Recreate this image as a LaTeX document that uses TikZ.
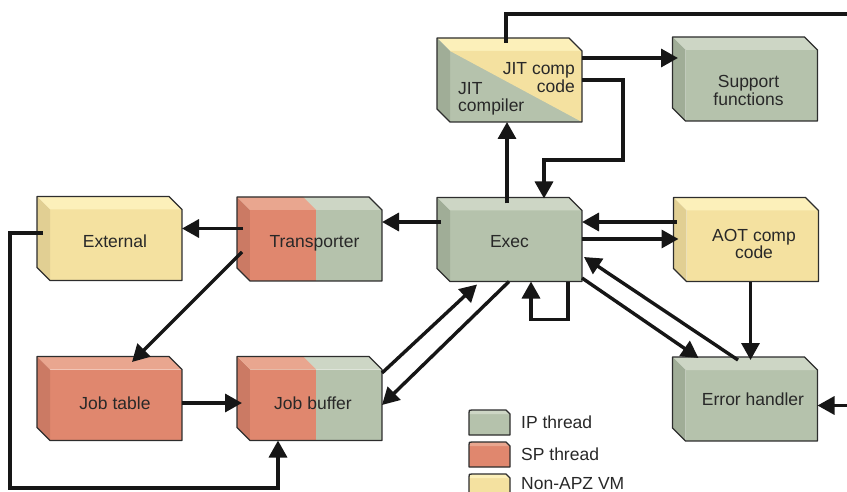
\documentclass[tikz,border=0pt]{standalone}
\usepackage{fontspec}
\setmainfont{Liberation Sans}
\usetikzlibrary{arrows.meta,positioning}
\pgfdeclarelayer{bg}
\pgfsetlayers{bg,main}

\definecolor{ipfront}{RGB}{181,194,172}
\definecolor{iptop}{RGB}{205,214,197}
\definecolor{ipside}{RGB}{160,173,151}
\definecolor{spfront}{RGB}{224,135,110}
\definecolor{sptop}{RGB}{233,166,143}
\definecolor{spside}{RGB}{203,122,100}
\definecolor{vmfront}{RGB}{244,225,160}
\definecolor{vmtop}{RGB}{252,240,186}
\definecolor{vmside}{RGB}{225,207,147}
\definecolor{txt}{RGB}{40,40,40}
\definecolor{rimc}{RGB}{45,45,45}
\definecolor{wirec}{RGB}{22,22,22}

\newcommand{\lab}{\fontsize{17.5}{17.5}\selectfont}

% front face is the node, top and side faces are 13 deep
\newcommand{\drawblock}[4]{%
	\begin{pgfonlayer}{bg}
		\fill[#2] (#1.north west) rectangle (#1.south east);
		\fill[#3] (#1.north west) -- ++(-13,-13) -- ([shift={(-13,-13)}]#1.north east) -- (#1.north east) -- cycle;
		\fill[#4] (#1.north west) -- ++(-13,-13) -- ([shift={(-13,-13)}]#1.south west) -- (#1.south west) -- cycle;
	\end{pgfonlayer}
	\draw[rim] ([shift={(-13,-13)}]#1.north west) -- ([shift={(-13,-13)}]#1.north east) -- (#1.north east) -- (#1.south east) -- (#1.south west) -- ([shift={(-13,-13)}]#1.south west) -- cycle;}

% left half red for the shared blocks
\newcommand{\sphalf}[1]{%
	\begin{pgfonlayer}{bg}
		\fill[spfront] (#1.north west) rectangle (#1.south);
		\fill[sptop] (#1.north west) -- ++(-13,-13) -- ([shift={(-13,-13)}]#1.north) -- (#1.north) -- cycle;
	\end{pgfonlayer}}

\newcommand{\keyline}[1]{(#1.south west) -- ([yshift=-3pt]#1.north west) .. controls (#1.north west) .. ([xshift=3pt]#1.north west) -- ([xshift=-4pt]#1.north east) -- ([yshift=-4pt]#1.north east) -- (#1.south east) -- cycle}
\newcommand{\keychip}[3]{%
	\fill[#2] \keyline{#1};
	\fill[#3] ([yshift=-3pt]#1.north west) .. controls (#1.north west) .. ([xshift=3pt]#1.north west) -- ([xshift=-4pt]#1.north east) -- ([yshift=-4pt]#1.north east) -- ([yshift=-4pt]#1.north west) -- cycle;
	\draw[rim] \keyline{#1};}

\tikzset{
	block/.style={minimum width=132pt, minimum height=71pt, inner sep=0pt, outer sep=0pt},
	lbl/.style={font=\lab, text=txt, inner sep=0pt, align=center},
	rim/.style={draw=rimc, line width=1.3pt, line join=round},
	wire/.style={draw=wirec, line width=3.4pt},
	arr/.style={wire, -{Triangle[length=17pt,width=18pt]}},
	keychip/.style={minimum width=41pt, minimum height=25pt, inner sep=0pt, outer sep=0pt}
}

\begin{document}
\begin{tikzpicture}[x=1pt,y=-1pt]
	\useasboundingbox (0,0) rectangle (847,492);
	\clip (0,0) rectangle (847,492);

	\node[block, label={[lbl,align=right,anchor=north east,shift={(-7,11.5)}]north east:{JIT comp\\code}}, label={[lbl,align=left,anchor=south west,shift={(8,-6.5)}]south west:{JIT\\compiler}}] (jit) at (516,86.5) {};
	\node[block, label={[lbl,shift={(-3,5)}]center:{Support\\functions}}] (support) at (751.5,85.5) {};
	\node[block, label={[lbl,shift={(-1,-3.5)}]center:External}] (external) at (116,245) {};
	\node[block, label={[lbl,shift={(-1.5,-2)}]center:Transporter}] (transporter) at (316,245.5) {};
	\node[block, label={[lbl,shift={(-6.5,-4.5)}]center:Exec}] (exec) at (516,246) {};
	\node[block, label={[lbl,shift={(1.5,-2)}]center:{AOT comp\\code}}] (aot) at (752.5,246) {};
	\node[block, label={[lbl,shift={(-1,-1.5)}]center:Job table}] (jobtable) at (116,405) {};
	\node[block, label={[lbl,shift={(-3,-1.5)}]center:Job buffer}] (jobbuffer) at (316,405) {};
	\node[block, label={[lbl,shift={(1.5,-6.5)}]center:Error handler}] (errhandler) at (751.5,405.5) {};

	\drawblock{jit}{ipfront}{vmtop}{ipside}
	\begin{pgfonlayer}{bg}
		\fill[vmfront] (jit.north west) -- (jit.north east) -- (jit.south east) -- cycle;
	\end{pgfonlayer}
	\drawblock{support}{ipfront}{iptop}{ipside}
	\drawblock{external}{vmfront}{vmtop}{vmside}
	\drawblock{transporter}{ipfront}{iptop}{spside}
	\sphalf{transporter}
	\drawblock{exec}{ipfront}{iptop}{ipside}
	\drawblock{aot}{vmfront}{vmtop}{vmside}
	\drawblock{jobtable}{spfront}{sptop}{spside}
	\drawblock{jobbuffer}{ipfront}{iptop}{spside}
	\sphalf{jobbuffer}
	\drawblock{errhandler}{ipfront}{iptop}{ipside}

	% legend
	\node[keychip] (ipkey) at (489.5,422.5) {};
	\node[keychip, below=7pt of ipkey] (spkey) {};
	\node[keychip, below=7pt of spkey] (vmkey) {};
	\keychip{ipkey}{ipfront}{iptop}
	\keychip{spkey}{spfront}{sptop}
	\keychip{vmkey}{vmfront}{vmtop}
	\node[lbl, right=11pt of ipkey] (iptext) {IP thread};
	\node[lbl, right=11pt of spkey] (sptext) {SP thread};
	\node[lbl, right=11pt of vmkey, yshift=2.5pt] (vmtext) {Non-APZ VM};

	\coordinate (toprun) at (850,14);
	\coordinate (jitbend) at (623,160);
	\coordinate (lowrun) at (10,488);
	\coordinate (rightrun) at (850,405.5);

	\draw[wire] ([shift={(-10,-8)}]jit.north) |- (toprun);
	\draw[arr] ([shift={(0,-28.5)}]jit.east) -- ([shift={(-7.5,-27.5)}]support.west);
	\draw[arr] ([shift={(0,-6.5)}]jit.east) -| (jitbend) -| ([shift={(28,-12)}]exec.north);
	\draw[arr] ([shift={(-9,-7)}]exec.north) -- ([shift={(-9,0)}]jit.south);
	\draw[arr] ([shift={(-10,-24)}]aot.west) -- ([shift={(0,-24)}]exec.east);
	\draw[arr] ([shift={(0,-7)}]exec.east) -- ([shift={(-8,-7)}]aot.west);
	\draw[arr] ([shift={(-9,-24)}]exec.west) -- ([shift={(0,-23.5)}]transporter.east);
	\draw[arr] ([shift={(-7,-17)}]transporter.west) -- ([shift={(0,-16.5)}]external.east);
	\draw[arr] ([shift={(-8,6.5)}]transporter.west) -- ([shift={(16,-7.5)}]jobtable.north);
	\draw[arr] ([shift={(0,-2)}]jobtable.east) -- ([shift={(-8,-2)}]jobbuffer.west);
	\draw[arr] ([shift={(-7,-12)}]external.west) -| (lowrun) -| ([shift={(-38,0)}]jobbuffer.south);
	\draw[arr] ([shift={(0,-32)}]jobbuffer.east) -- ([shift={(-39,3)}]exec.south);
	\draw[arr] ([shift={(-7,0)}]exec.south) -- (jobbuffer.east);
	\draw[arr] ([shift={(52,0)}]exec.south) -- ++(0,38) -| ([shift={(15,0)}]exec.south);
	\draw[arr] ([shift={(0,32)}]exec.east) -- ([shift={(-53,-12)}]errhandler.north);
	\draw[arr] ([shift={(-13.5,-10)}]errhandler.north) -- ([shift={(2,11)}]exec.east);
	\draw[arr] ([shift={(-2,0)}]aot.south) -- ([shift={(-1,-10)}]errhandler.north);
	\draw[arr] (rightrun) -- (errhandler.east);
\end{tikzpicture}
\end{document}
